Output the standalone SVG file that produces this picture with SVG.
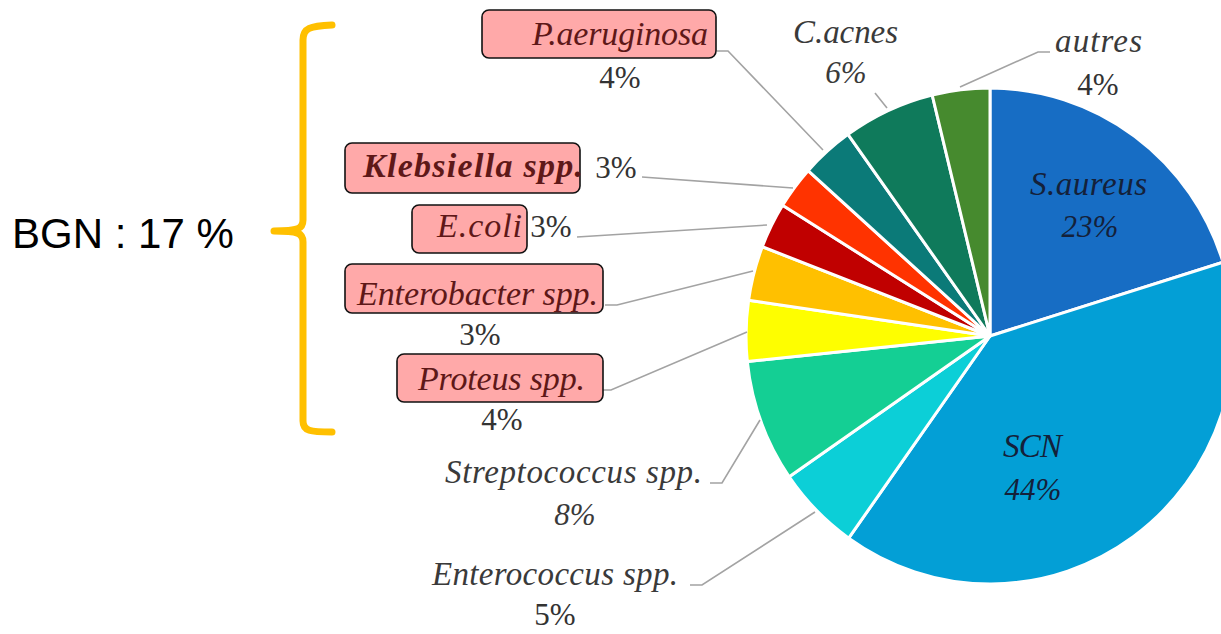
<svg xmlns="http://www.w3.org/2000/svg" width="1221" height="634" viewBox="0 0 1221 634">
<style>
.slice{stroke:#ffffff;stroke-width:3;stroke-linejoin:round}
.lbl{font-family:"Liberation Serif",serif;font-style:italic;font-size:33px;fill:#3a3a3a}
.inl{font-family:"Liberation Serif",serif;font-style:italic;font-size:33px;fill:#14213a}
.pct{font-family:"Liberation Serif",serif;font-size:31px;fill:#333333;text-anchor:middle}
.pcti{font-family:"Liberation Serif",serif;font-style:italic;font-size:31px;fill:#3a3a3a;text-anchor:middle}
.box{fill:#ffa9a9;stroke:#111111;stroke-width:1.6}
.bl{font-family:"Liberation Serif",serif;font-style:italic;font-size:34px;fill:#5e1818}
.lead{fill:none;stroke:#a3a3a3;stroke-width:1.6}
</style>
<rect width="1221" height="634" fill="#ffffff"/>
<g id="pie">
<path id="s-aureus" class="slice" fill="#176dc4" d="M990,336 L990,88 A244,248 0 0 1 1223,262.2 Z"/>
<path id="scn" class="slice" fill="#039fd6" d="M990,336 L1223,262.2 A244,248 0 0 1 848.7,538.1 Z"/>
<path id="enterococcus" class="slice" fill="#0ccfd7" d="M990,336 L848.7,538.1 A244,248 0 0 1 789.2,476.8 Z"/>
<path id="streptococcus" class="slice" fill="#14cf94" d="M990,336 L789.2,476.8 A244,248 0 0 1 747.3,361.5 Z"/>
<path id="proteus" class="slice" fill="#fefe00" d="M990,336 L747.3,361.5 A244,248 0 0 1 748.6,300.2 Z"/>
<path id="enterobacter" class="slice" fill="#ffc000" d="M990,336 L748.6,300.2 A244,248 0 0 1 762.3,246.7 Z"/>
<path id="ecoli" class="slice" fill="#c00000" d="M990,336 L762.3,246.7 A244,248 0 0 1 782.6,205.3 Z"/>
<path id="klebsiella" class="slice" fill="#ff3300" d="M990,336 L782.6,205.3 A244,248 0 0 1 808.1,170.7 Z"/>
<path id="paeruginosa" class="slice" fill="#0b7a78" d="M990,336 L808.1,170.7 A244,248 0 0 1 848,134.4 Z"/>
<path id="cacnes" class="slice" fill="#0f7a5b" d="M990,336 L848,134.4 A244,248 0 0 1 932.2,95 Z"/>
<path id="autres" class="slice" fill="#468a2e" d="M990,336 L932.2,95 A244,248 0 0 1 990,88 Z"/>
</g>
<g id="connectors">
<path class="lead" d="M717,51 L728,51 L823,150"/>
<path class="lead" d="M875,93 L887,108"/>
<path class="lead" d="M1050,52 L1038,52 L960,87"/>
<path class="lead" d="M642,177 L793,188"/>
<path class="lead" d="M577,237 L767,225"/>
<path class="lead" d="M605,305 L617,305 L753,271"/>
<path class="lead" d="M603,390 L611,390 L747,332"/>
<path class="lead" d="M710,483 L722,483 L760,420"/>
<path class="lead" d="M690,585 L702,585 L815,512"/>
</g>
<g id="label-saureus">
<text class="inl" x="1030" y="195" textLength="117">S.aureus</text>
<text class="pcti" x="1090" y="237" style="fill:#14213a">23%</text>
</g>
<g id="label-scn">
<text class="inl" x="1003" y="457" textLength="59">SCN</text>
<text class="pcti" x="1033" y="500" style="fill:#14213a">44%</text>
</g>
<g id="label-cacnes">
<text class="lbl" x="793" y="43" textLength="105">C.acnes</text>
<text class="pcti" x="846" y="83">6%</text>
</g>
<g id="label-autres">
<text class="lbl" x="1055" y="52" textLength="87">autres</text>
<text class="pct" x="1098" y="95">4%</text>
</g>
<g id="label-paeruginosa">
<rect class="box" x="482" y="10" width="234" height="48" rx="7"/>
<text class="bl" x="532" y="45" textLength="176">P.aeruginosa</text>
<text class="pct" x="620" y="88">4%</text>
</g>
<g id="label-klebsiella">
<rect class="box" x="345" y="143" width="235" height="50" rx="7"/>
<text class="bl" x="363" y="177" textLength="220" font-weight="bold">Klebsiella spp.</text>
<text class="pct" x="616" y="178">3%</text>
</g>
<g id="label-ecoli">
<rect class="box" x="412" y="205" width="115" height="48" rx="7"/>
<text class="bl" x="437" y="237" textLength="85">E.coli</text>
<text class="pct" x="551" y="237">3%</text>
</g>
<g id="label-enterobacter">
<rect class="box" x="345" y="264" width="258" height="49" rx="7"/>
<text class="bl" x="357" y="305" textLength="241">Enterobacter spp.</text>
<text class="pct" x="480" y="345">3%</text>
</g>
<g id="label-proteus">
<rect class="box" x="397" y="354" width="206" height="48" rx="7"/>
<text class="bl" x="418" y="390" textLength="167">Proteus spp.</text>
<text class="pct" x="502" y="430">4%</text>
</g>
<g id="label-streptococcus">
<text class="lbl" x="445" y="483" textLength="257">Streptococcus spp.</text>
<text class="pcti" x="575" y="525">8%</text>
</g>
<g id="label-enterococcus">
<text class="lbl" x="432" y="585" textLength="246">Enterococcus spp.</text>
<text class="pct" x="555" y="625">5%</text>
</g>
<g id="bgn-bracket">
<path d="M332,25 C310,26 303,28 303,40 L303,220 C303,229 298,231 274,231 C298,231 303,233 303,242 L303,421 C303,431 310,432 332,432" fill="none" stroke="#ffc000" stroke-width="7" stroke-linecap="round" stroke-linejoin="round"/>
<text x="12" y="248" font-family="Liberation Sans, Arial, sans-serif" font-size="42" fill="#000000">BGN : 17 %</text>
</g>
</svg>
